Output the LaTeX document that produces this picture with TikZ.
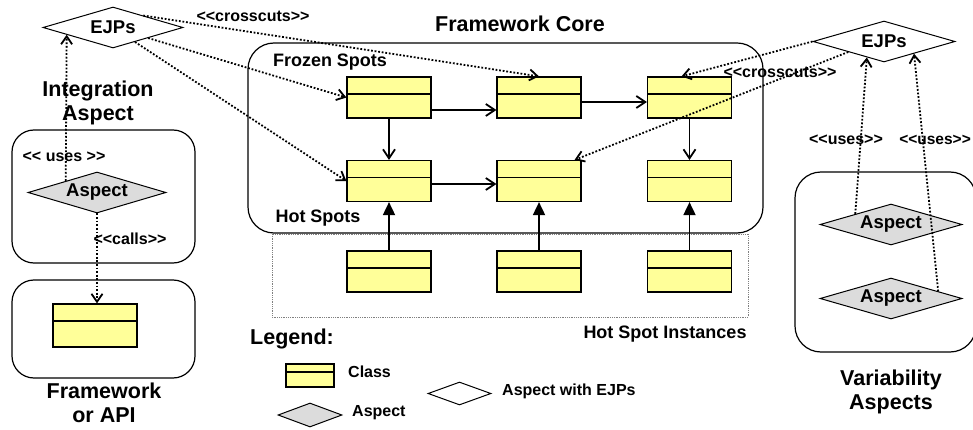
\documentclass[tikz,border=0pt]{standalone}
\usepackage{fontspec}
\setmainfont{Liberation Sans}[Ligatures=TeXOff]
\usetikzlibrary{arrows.meta,shapes.geometric,calc}
\definecolor{clsyellow}{HTML}{FFFF99}
\definecolor{aspgray}{HTML}{DCDCDC}
\begin{document}
\begin{tikzpicture}[x=1pt,y=-1pt,
  cls/.style={draw, line width=1.2pt, fill=clsyellow, minimum width=84pt, minimum height=41pt, inner sep=0pt,
    path picture={\draw[line width=1.8pt] ([yshift=-17pt]path picture bounding box.north west) -- ([yshift=-17pt]path picture bounding box.north east);}},
  lcls/.style={draw, line width=1.2pt, fill=clsyellow, minimum width=48pt, minimum height=23pt, inner sep=0pt,
    path picture={\draw[line width=1.6pt] ([yshift=-8pt]path picture bounding box.north west) -- ([yshift=-8pt]path picture bounding box.north east);}},
  dia/.style={diamond, draw, line width=1pt, inner sep=0pt, shape aspect=3.4, minimum width=140pt, minimum height=41pt,
    font=\bfseries\fontsize{18.5}{20}\selectfont},
  ejp/.style={dia, fill=white},
  asp/.style={dia, fill=aspgray},
  rbox/.style={draw, line width=1.2pt, rounded corners=22pt},
  bigtxt/.style={font=\bfseries\fontsize{21.5}{24}\selectfont, align=center, inner sep=0pt},
  midtxt/.style={font=\bfseries\fontsize{18}{20}\selectfont, inner sep=0pt},
  smalltxt/.style={font=\bfseries\fontsize{16}{18}\selectfont, inner sep=0pt},
  sarr/.style={line width=1.8pt, -{Straight Barb[length=9pt,width=12pt]}},
  tarr/.style={line width=1.8pt, -{Triangle[length=13pt,width=12pt]}},
  dotline/.style={line width=1.8pt, dash pattern=on 1.8pt off 1.8pt, -{Straight Barb[length=8pt,width=11pt]}}
]
\useasboundingbox (0,0) rectangle (973,430);
\fill[white] (0,0) rectangle (973,430);

% containers
\draw[rbox] (12,130) rectangle (195,263);
\draw[rbox] (12,280) rectangle (195,378);
\draw[rbox, rounded corners=26pt] (248,43) rectangle (763,233);
\draw[rbox, rounded corners=26pt] (795,172) rectangle (976,352);
\draw[gray, line width=0.9pt, dash pattern=on 0.9pt off 0.9pt] (272,234) rectangle (748,317);

% titles and labels
\node[bigtxt] (tcore) at (520,24) {Framework Core};
\node[bigtxt] (tint) at (98,103) {Integration\\Aspect};
\node[bigtxt] (tfw) at (104,403) {Framework\\or API};
\node[bigtxt] (tvar) at (891,392) {Variability\\Aspects};
\node[midtxt] (tfrozen) at (330,62) {Frozen Spots};
\node[midtxt] (thot) at (318,218) {Hot Spots};
\node[midtxt] (tinst) at (665,334) {Hot Spot Instances};
\node[bigtxt] (tleg) at (292,339) {Legend:};

% classes
\node[cls] (c11) at (389,97.5) {};
\node[cls] (c12) at (539,97.5) {};
\node[cls] (c13) at (689.5,97.5) {};
\node[cls] (c21) at (389,181) {};
\node[cls] (c22) at (539,181) {};
\node[cls] (c23) at (689.5,181) {};
\node[cls] (c31) at (389,271.5) {};
\node[cls] (c32) at (539,271.5) {};
\node[cls] (c33) at (689.5,271.5) {};
\node[cls, minimum height=43pt] (capi) at (95,325.5) {};

% diamonds
\node[ejp] (ejpL) at (113,27.5) {EJPs};
\node[ejp, minimum width=142pt] (ejpR) at (884,41.5) {EJPs};
\node[asp, minimum width=138pt] (ia) at (97,192.5) {Aspect};
\node[asp, minimum width=142pt] (va1) at (891,224.5) {Aspect};
\node[asp, minimum width=142pt] (va2) at (891,298.5) {Aspect};

% legend
\node[lcls] (lcls) at (310,375.5) {};
\node[smalltxt, anchor=west] (lclst) at (348,372) {Class};
\node[diamond, draw, line width=1pt, fill=white, inner sep=0pt, minimum width=63pt, minimum height=23pt] (lejp) at (459.5,393.5) {};
\node[smalltxt, anchor=west] (lejpt) at (502,391) {Aspect with EJPs};
\node[diamond, draw, line width=1pt, fill=aspgray, inner sep=0pt, minimum width=64pt, minimum height=24pt] (lasp) at (310,415) {};
\node[smalltxt, anchor=west] (laspt) at (352,413) {Aspect};

% solid connectors
\draw[sarr] ([yshift=-12.5pt]c11.east) -- ([yshift=-12.5pt]c12.west);
\draw[sarr] ([yshift=-4.5pt]c12.east) -- ([yshift=-4.5pt]c13.west);
\draw[sarr] ([yshift=-3pt]c21.east) -- ([yshift=-3pt]c22.west);
\draw[sarr] (c11) -- (c21);
\draw[sarr] (c13) -- (c23);
\draw[tarr] (c31) -- (c21);
\draw[tarr] (c32) -- (c22);
\draw[tarr] (c33) -- (c23);

% dotted connectors
\draw[dotline] ($(ejpL.north)!0.43!(ejpL.east)$) -- (c12.north);
\draw[dotline] (ejpL) -- (c11.west);
\draw[dotline] (ejpL) -- (c21.west);
\draw[dotline] (ejpR.west) -- ([xshift=-8pt]c13.north);
\draw[dotline] (ejpR.south west) -- ([xshift=-7pt]c22.north east);
\draw[dotline] (va1.north west) -- ($(ejpR.south)!0.48!(ejpR.south west)$);
\draw[dotline] ($(va2.north)!0.66!(va2.east)$) -- ($(ejpR.south)!0.42!(ejpR.east)$);
\draw[dotline] ($(ia.north)!0.45!(ia.west)$) -- ($(ejpL.south)!0.657!(ejpL.west)$);
\draw[dotline] (ia.south) -- (ia.south |- capi.north);

% connector labels
\node[smalltxt] (lcc1) at (253,16) {<<crosscuts>>};
\node[smalltxt] (lcc2) at (780,72) {<<crosscuts>>};
\node[smalltxt] (luse0) at (64,157) {<< uses >>};
\node[smalltxt] (lcalls) at (130,239) {<<calls>>};
\node[smalltxt] (luse1) at (846,140) {<<uses>>};
\node[smalltxt, font=\bfseries\fontsize{15.5}{18}\selectfont, anchor=east] (luse2) at (971,140) {<<uses>>};
\end{tikzpicture}
\end{document}
